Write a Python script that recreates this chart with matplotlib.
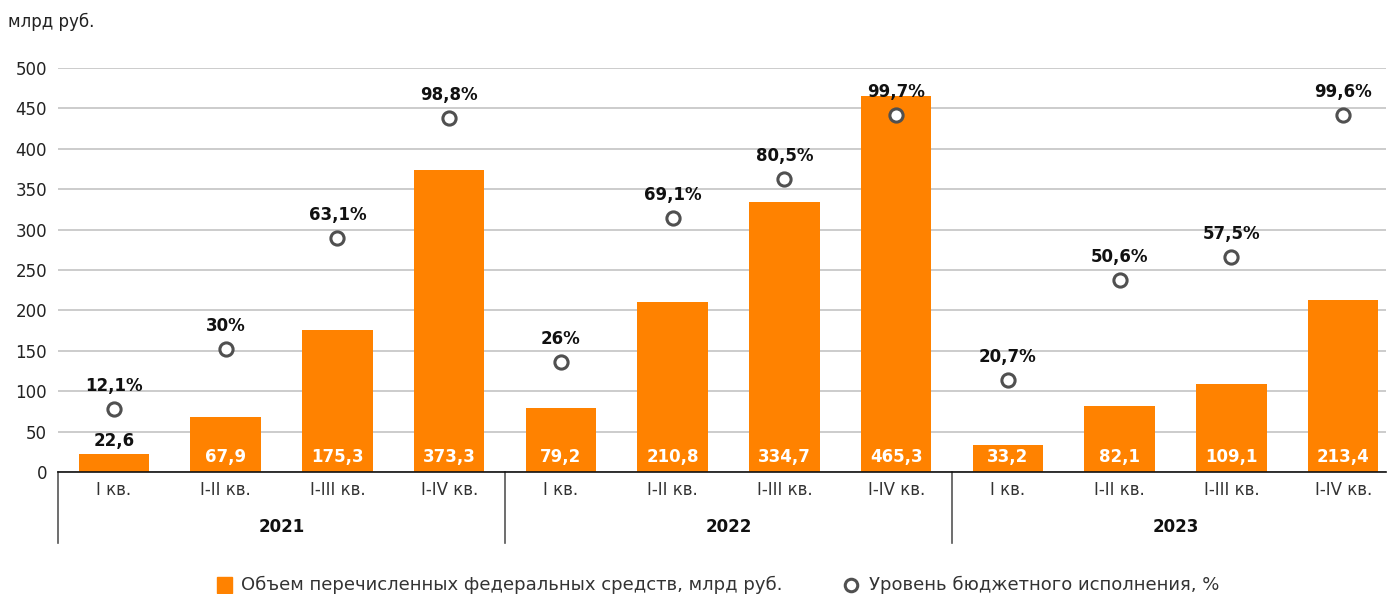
import matplotlib
matplotlib.use('Agg')
import matplotlib.pyplot as plt
import numpy as np

plt.rcParams['font.family'] = ['DejaVu Sans']

QUARTERS = ['I кв.', 'I-II кв.', 'I-III кв.', 'I-IV кв.'] * 3
YEARS = ['2021', '2022', '2023']
VOLUME = [22.6, 67.9, 175.3, 373.3, 79.2, 210.8, 334.7, 465.3, 33.2, 82.1, 109.1, 213.4]
VOLUME_LBL = ['22,6', '67,9', '175,3', '373,3', '79,2', '210,8', '334,7', '465,3', '33,2', '82,1', '109,1', '213,4']
EXEC_PCT = [12.1, 30, 63.1, 98.8, 26, 69.1, 80.5, 99.7, 20.7, 50.6, 57.5, 99.6]
EXEC_LBL = ['12,1%', '30%', '63,1%', '98,8%', '26%', '69,1%', '80,5%', '99,7%', '20,7%', '50,6%', '57,5%', '99,6%']

ORANGE = '#FF8200'
GRID = '#c4c4c4'
FS = 12

fig = plt.figure(figsize=(13.91, 5.94), dpi=100)
W, H = 1391, 594
ax = fig.add_axes([58 / W, 1 - 472 / H, (1386 - 58) / W, (472 - 68) / H])
x = np.arange(len(VOLUME))
ax.bar(x, VOLUME, width=0.63, color=ORANGE, zorder=2)
ax.set_ylim(0, 500)
ax.set_xlim(-0.5, 11.5 - 13 / 111.7)
ax.set_yticks(range(0, 501, 50))
ax.yaxis.grid(True, color=GRID, linewidth=1.2, zorder=0)
ax.set_axisbelow(True)
ax.tick_params(axis='y', length=0, pad=8, labelsize=FS, labelcolor='#222222')
ax.set_xticks([])
for s in ['top', 'right', 'left']:
    ax.spines[s].set_visible(False)
ax.spines['bottom'].set_color('#111111')
ax.spines['bottom'].set_linewidth(1.2)

# подписи значений столбцов
for i, (v, lbl) in enumerate(zip(VOLUME, VOLUME_LBL)):
    if v < 30:
        ax.annotate(lbl, (i, v), xytext=(0, 9.5), textcoords='offset points',
                    ha='center', va='center', fontsize=FS, fontweight='bold', color='#111111', zorder=4)
    else:
        ax.annotate(lbl, (i, 0), xytext=(0, 11), textcoords='offset points',
                    ha='center', va='center', fontsize=FS, fontweight='bold', color='white', zorder=4)

# уровень исполнения на скрытой второй оси
ax2 = ax.twinx()
ax2.set_ylim(-6.63, 113.6)
ax2.axis('off')
ax2.plot(x, EXEC_PCT, 'o', markersize=9.5, markerfacecolor='white', markeredgecolor='#505050',
         markeredgewidth=2.2, linestyle='none', zorder=5)
for i, (p, lbl) in enumerate(zip(EXEC_PCT, EXEC_LBL)):
    ax2.annotate(lbl, (i, p), xytext=(0, 16.5), textcoords='offset points',
                 ha='center', va='center', fontsize=FS, fontweight='bold', color='#111111')

# подписи категорий под осью
trans = ax.get_xaxis_transform()
for i, q in enumerate(QUARTERS):
    ax.text(i, -18 / 404, q, transform=trans, ha='center', va='center', fontsize=FS, color='#333333')
for g, yr in enumerate(YEARS):
    ax.text(g * 4 + 1.5, -55 / 404, yr, transform=trans, ha='center', va='center',
            fontsize=FS, fontweight='bold', color='#111111')
for b in [-0.5, 3.5, 7.5]:
    ax.plot([b, b], [0, -71 / 404], transform=trans, color='#555555', linewidth=1.2, clip_on=False)

fig.text(8 / W, 1 - 22 / H, 'млрд руб.', ha='left', va='center', fontsize=FS, color='#222222')

# легенда
fig.patches.append(plt.Rectangle((217 / W, 1 - 593 / H), 15 / W, 16 / H, transform=fig.transFigure,
                                 color=ORANGE, figure=fig))
fig.text(241 / W, 1 - 585 / H, 'Объем перечисленных федеральных средств, млрд руб.',
         ha='left', va='center', fontsize=13, color='#333333')
fig.lines.append(plt.Line2D([851 / W], [1 - 585 / H], marker='o', markersize=9, markerfacecolor='white',
                            markeredgecolor='#505050', markeredgewidth=2.2, transform=fig.transFigure))
fig.text(869 / W, 1 - 585 / H, 'Уровень бюджетного исполнения, %',
         ha='left', va='center', fontsize=13, color='#333333')

fig.savefig('out.png', dpi=100)
